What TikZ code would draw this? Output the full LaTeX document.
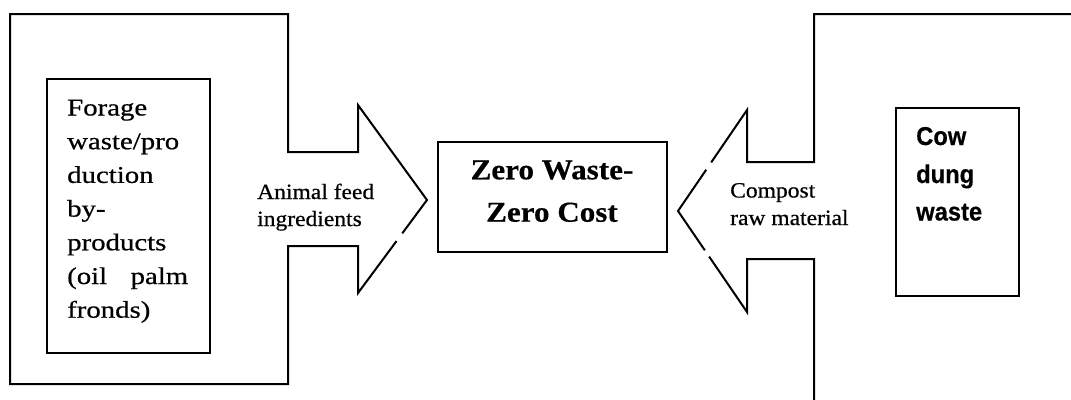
\documentclass[tikz,border=0pt]{standalone}
\usepackage{fontspec}
\setmainfont{Liberation Serif}
\newfontfamily\labelfont[FakeStretch=1.08,FakeBold=0.6]{Liberation Serif}
\newfontfamily\boxfont[FakeStretch=1.2,FakeBold=0.6]{Liberation Serif}
\newfontfamily\hubfont[FakeStretch=1.08,FakeBold=0.4]{Liberation Serif Bold}
\newfontfamily\dungfont[FakeStretch=0.92,FakeBold=0.4]{Liberation Sans Bold}
\usetikzlibrary{calc}

\tikzset{
  outline/.style={draw, line width=2pt, line join=miter},
  box/.style={draw, line width=2.4pt, inner sep=0pt, anchor=north west},
  gap/.style={white, line width=4pt},
  txt/.style={inner sep=0pt, anchor=base west},
  srctext/.style={txt, font=\boxfont\fontsize{24}{28}\selectfont},
  flowtext/.style={txt, font=\labelfont\fontsize{21.8}{26}\selectfont},
  hubtext/.style={inner sep=0pt, anchor=base, font=\hubfont\fontsize{28.8}{34}\selectfont},
  dungtext/.style={txt, font=\dungfont\fontsize{25.8}{30}\selectfont},
}

\begin{document}
\begin{tikzpicture}[x=1pt, y=-1pt]
  \useasboundingbox (0,0) rectangle (1071,399);
  \clip (0,0) rectangle (1071,399);

  % left block arrow (feed stream)
  \coordinate (lht) at (358,105);
  \coordinate (ltip) at (427,200);
  \coordinate (lhb) at (358,293);
  \draw[outline] (10,14) -- (288,14) -- (288,152) -- (358,152) -- (lht)
    -- (ltip) -- (lhb) -- (358,246) -- (288,246) -- (288,384) -- (10,384) -- cycle;
  \draw[gap] ($(ltip)!0.36!(lhb)$) -- ($(ltip)!0.44!(lhb)$);

  % right block arrow (compost stream), running off the page edges
  \coordinate (rht) at (747,110);
  \coordinate (rtip) at (678,211);
  \coordinate (rhb) at (747,312);
  \draw[outline] (1080,14) -- (814,14) -- (814,162) -- (747,162) -- (rht)
    -- (rtip) -- (rhb) -- (747,259) -- (814,259) -- (814,410);
  \draw[gap] ($(rht)!0.52!(rtip)$) -- ($(rht)!0.59!(rtip)$);
  \draw[gap] ($(rtip)!0.39!(rhb)$) -- ($(rtip)!0.45!(rhb)$);

  % boxes
  \node[box, minimum width=163pt, minimum height=274pt] (src) at (46,78) {};
  \node[box, minimum width=229pt, minimum height=110pt] (hub) at (437,141) {};
  \node[box, minimum width=123pt, minimum height=188pt] (dung) at (895,107) {};

  % source box text
  \foreach \t [count=\i from 0] in {Forage, waste/pro, duction, by-, products,
      {\hbox to 121pt{(oil\hfill palm}}, fronds)}
    \node[srctext] (src\i) at (67,{115.5+33.7*\i}) {\t};

  % hub text
  \node[hubtext] (hub1) at (552,179.3) {Zero Waste-};
  \node[hubtext] (hub2) at (552,221.7) {Zero Cost};

  % arrow labels
  \node[flowtext] (feed1) at (257,199) {Animal feed};
  \node[flowtext] (feed2) at (257,226) {ingredients};
  \node[flowtext] (comp1) at (730,197.5) {Compost};
  \node[flowtext] (comp2) at (730,225) {raw material};

  % dung box text
  \node[dungtext] (dung1) at (916,145) {Cow};
  \node[dungtext] (dung2) at (916,183) {dung};
  \node[dungtext] (dung3) at (916,220.5) {waste};
\end{tikzpicture}
\end{document}
